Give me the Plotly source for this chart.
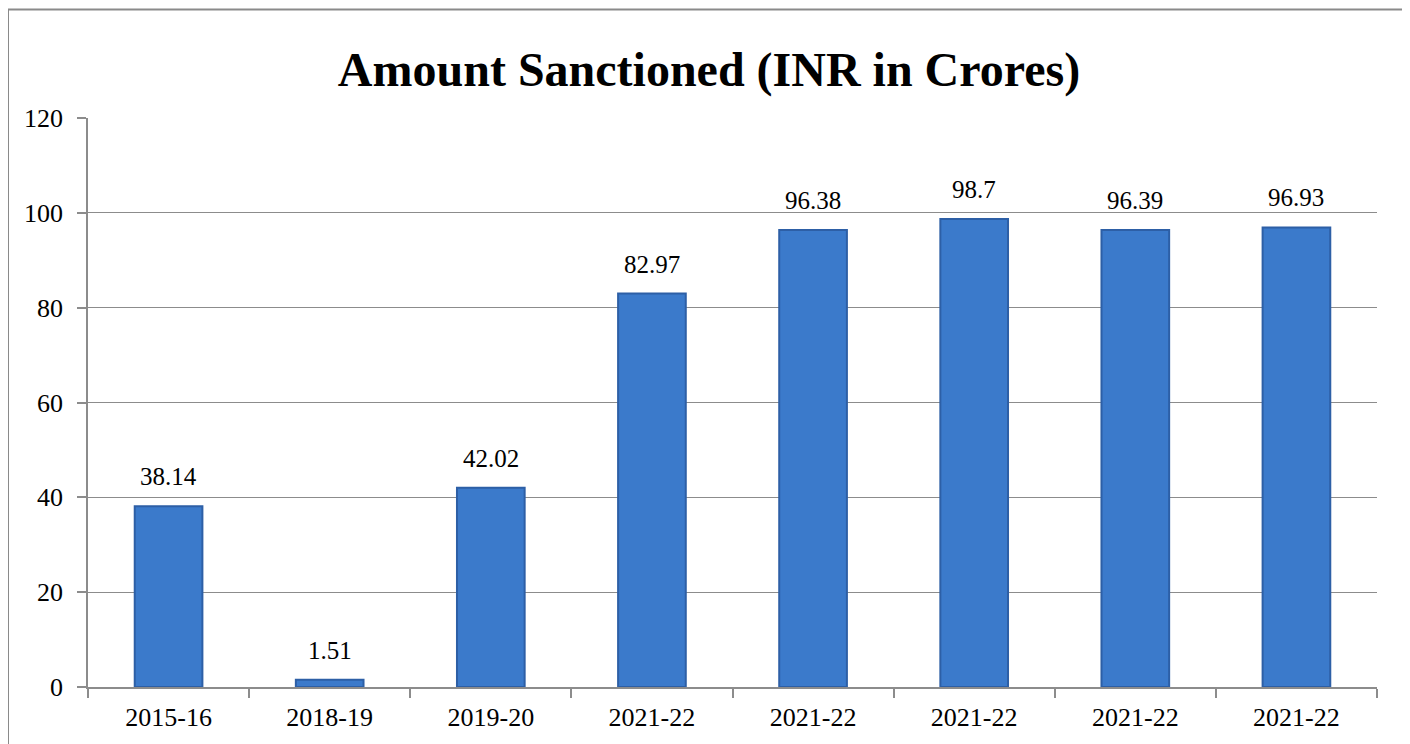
import plotly.graph_objects as go

categories = ["2015-16", "2018-19", "2019-20", "2021-22", "2021-22", "2021-22", "2021-22", "2021-22"]
values = [38.14, 1.51, 42.02, 82.97, 96.38, 98.7, 96.39, 96.93]
labels = ["38.14", "1.51", "42.02", "82.97", "96.38", "98.7", "96.39", "96.93"]
y_ticks = [0, 20, 40, 60, 80, 100, 120]

positions = list(range(len(categories)))
FONT = "Liberation Serif, Times New Roman, serif"
GRID = "#8c8c8c"

fig = go.Figure(go.Bar(
    x=positions,
    y=values,
    marker=dict(color="#3b7acb", line=dict(color="#2d5fa6", width=2)),
    width=0.42,
    hoverinfo="x+y",
))

for p, v, t in zip(positions, values, labels):
    fig.add_annotation(x=p, y=v, text=t, showarrow=False, yanchor="bottom",
                       yshift=14, font=dict(family=FONT, size=25, color="black"))

# Page is offset by the 8px body margin; figure coordinates = page - 8
W, H = 1402, 736
L, R, T, B = 80, 33, 110, 55
pw, ph = W - L - R, H - T - B

def px_x(v):
    return (v - L) / pw

def px_y(v):
    return (H - B - v) / ph

fig.add_shape(type="rect", xref="paper", yref="paper",
              x0=px_x(0), x1=px_x(1397), y0=px_y(760), y1=px_y(1),
              line=dict(color="#8a8a8a", width=2), fillcolor="rgba(0,0,0,0)", layer="below")

fig.update_layout(
    width=W, height=H,
    margin=dict(l=L, r=R, t=T, b=B),
    paper_bgcolor="white", plot_bgcolor="white",
    showlegend=False,
    title=dict(text="<b>Amount Sanctioned (INR in Crores)</b>", x=0.5, xanchor="center",
               y=1 - 61 / H, yanchor="middle",
               font=dict(family=FONT, size=48, color="black")),
    font=dict(family=FONT, size=26, color="black"),
    xaxis=dict(
        range=[-0.5, 7.5],
        tickvals=positions, ticktext=categories,
        ticks="", showgrid=False,
        showline=True, linecolor=GRID, linewidth=1.5,
        tickfont=dict(family=FONT, size=26, color="black"),
        ticklabelstandoff=6,
        minor=dict(tickvals=[p - 0.5 for p in positions] + [7.5], ticks="outside",
                   ticklen=9, tickcolor=GRID, tickwidth=1.5, showgrid=False),
        zeroline=False,
    ),
    yaxis=dict(
        range=[0, 120],
        tickvals=y_ticks,
        ticks="outside", ticklen=9, tickcolor=GRID, tickwidth=1.5,
        showgrid=True, gridcolor=GRID, gridwidth=1.2,
        showline=True, linecolor=GRID, linewidth=1.5,
        zeroline=False,
        tickfont=dict(family=FONT, size=26, color="black"),
        ticklabelstandoff=9,
    ),
    bargap=0.58,
)

fig.write_html("out.html")
